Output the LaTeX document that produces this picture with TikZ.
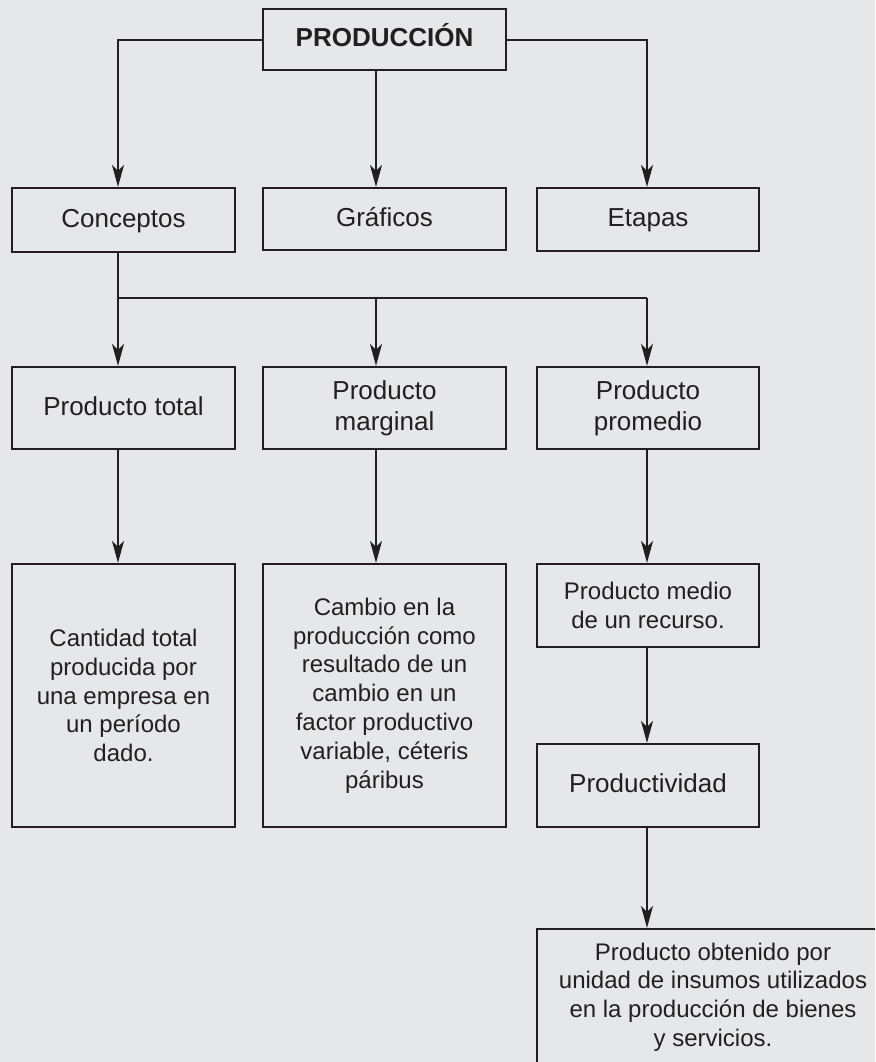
\documentclass[tikz,border=0pt]{standalone}
\usepackage{fontspec}
\setmainfont{Liberation Sans}
\usetikzlibrary{arrows.meta}
\definecolor{fondo}{HTML}{E6E7E8}
\definecolor{tinta}{HTML}{231F20}

\begin{document}
\begin{tikzpicture}[x=0.5pt, y=-0.5pt,
    caja/.style={draw=tinta, line width=1.1pt, inner sep=0pt, align=center, text=tinta},
    titulo/.style={caja, font=\fontsize{13}{15.5}\selectfont},
    unalinea/.style={titulo, text height=10pt, text depth=3pt},
    texto/.style={caja, font=\fontsize{12}{14.4}\selectfont},
    flecha/.style={draw=tinta, line width=1pt, -{Stealth[length=11pt, width=6pt, inset=3pt]}},
    linea/.style={draw=tinta, line width=1pt}]
  % Page and background
  \useasboundingbox (0,0) rectangle (875,1062);
  \fill[fondo] (0,0) rectangle (875,1062);
  \clip (0,0) rectangle (875,1062);
  % Arrow columns
  \coordinate (a1) at (118,0);
  \coordinate (a2) at (376,0);
  \coordinate (a3) at (647,0);
  \coordinate (j) at (0,298);
  % Top box
  \node[unalinea, font=\fontsize{13}{15.5}\selectfont\bfseries, minimum width=121.5pt, minimum height=30.5pt] (prod) at (384.5,39.5) {PRODUCCIÓN};
  % First row
  \node[unalinea, minimum width=111.5pt, minimum height=32pt] (conc) at (123.5,220) {Conceptos};
  \node[unalinea, minimum width=121.5pt, minimum height=31pt] (graf) at (384.5,219) {Gráficos};
  \node[unalinea, minimum width=111pt, minimum height=31.5pt] (etap) at (648,219.5) {Etapas};
  % Second row
  \node[unalinea, minimum width=111.5pt, minimum height=41pt] (ptot) at (123.5,408) {Producto total};
  \node[titulo, minimum width=121.5pt, minimum height=41pt] (pmar) at (384.5,408) {Producto\\marginal};
  \node[titulo, minimum width=111pt, minimum height=41pt] (pprom) at (648,408) {Producto\\promedio};
  % Third row
  \node[texto, minimum width=111.5pt, minimum height=131.5pt] (cant) at (123.5,695.5) {Cantidad total\\producida por\\una empresa en\\un período\\dado.};
  \node[texto, minimum width=121.5pt, minimum height=131.5pt] (camb) at (384.5,695.5) {Cambio en la\\producción como\\resultado de un\\cambio en un\\factor productivo\\variable, céteris\\páribus};
  \node[texto, minimum width=111pt, minimum height=41.5pt] (pmed) at (648,605.5) {Producto medio\\de un recurso.};
  \node[unalinea, minimum width=111pt, minimum height=41.5pt] (pvid) at (648,785.5) {Productividad};
  \node[texto, minimum width=176pt, minimum height=68pt] (pobt) at (713,997) {Producto obtenido por\\unidad de insumos utilizados\\en la producción de bienes\\y servicios.};
  % Connectors from the top
  \draw[flecha] (prod.west) -| (conc.north -| a1);
  \draw[flecha] (prod.south -| a2) -- (graf.north -| a2);
  \draw[flecha] (prod.east) -| (etap.north -| a3);
  % Conceptos branches
  \draw[linea] (conc.south -| a1) -- (j -| a1) -- (j -| a3);
  \foreach \c/\n in {a1/ptot, a2/pmar, a3/pprom} {
    \draw[flecha] (j -| \c) -- (\n.north -| \c);
  }
  % Down to the definitions
  \foreach \c/\m/\n in {a1/ptot/cant, a2/pmar/camb, a3/pprom/pmed, a3/pmed/pvid, a3/pvid/pobt} {
    \draw[flecha] (\m.south -| \c) -- (\n.north -| \c);
  }
\end{tikzpicture}
\end{document}
